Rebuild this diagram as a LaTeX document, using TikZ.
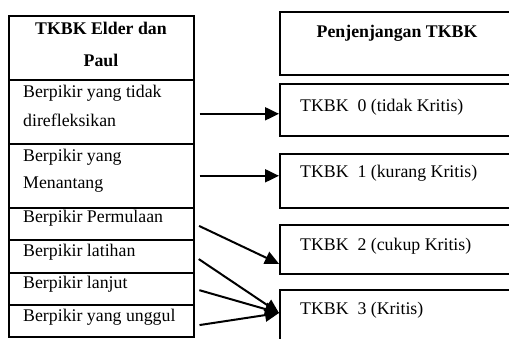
\documentclass[tikz,border=0pt]{standalone}
\usepackage{fontspec}
\setmainfont{Liberation Serif}
\usetikzlibrary{arrows.meta}
\begin{document}
\begin{tikzpicture}[x=1pt,y=-1pt,
  box/.style={draw,line width=1.6pt,rectangle,anchor=north west,inner sep=0pt},
  txt/.style={anchor=west,inner sep=0pt,font=\fontsize{17.8}{20}\selectfont},
  hdr/.style={inner sep=0pt,font=\fontsize{17.8}{20}\selectfont\bfseries},
  conn/.style={line width=2pt,-{Triangle[length=14pt,width=13pt]},shorten <=5pt}]
\useasboundingbox (0,0) rectangle (509,338);
\clip (0,0) rectangle (509,338);
% left column
\node[box,minimum width=185pt,minimum height=64pt] (h1) at (8,15) {};
\node[box,minimum width=185pt,minimum height=64pt] (r1) at (8,79) {};
\node[box,minimum width=185pt,minimum height=64pt] (r2) at (8,143) {};
\node[box,minimum width=185pt,minimum height=32pt] (r3) at (8,207) {};
\node[box,minimum width=185pt,minimum height=33pt] (r4) at (8,239) {};
\node[box,minimum width=185pt,minimum height=32pt] (r5) at (8,272) {};
\node[box,minimum width=185pt,minimum height=32pt] (r6) at (8,304) {};
\node[hdr] (h1a) at (101,28) {TKBK Elder dan};
\node[hdr] (h1b) at (101,60) {Paul};
\node[txt] (t1a) at (23,93) {Berpikir yang tidak};
\node[txt] (t1b) at (23,120) {direfleksikan};
\node[txt] (t2a) at (23,157) {Berpikir yang};
\node[txt] (t2b) at (23,185) {Menantang};
\node[txt] (t3) at (23,218) {Berpikir Permulaan};
\node[txt] (t4) at (23,252) {Berpikir latihan};
\node[txt] (t5) at (23,284) {Berpikir lanjut};
\node[txt] (t6) at (23,317) {Berpikir yang unggul};
% right column
\node[box,minimum width=240pt,minimum height=63pt] (h2) at (279,11) {};
\node[box,minimum width=240pt,minimum height=52pt] (b0) at (279,83) {};
\node[box,minimum width=240pt,minimum height=54pt] (b1) at (279,153) {};
\node[box,minimum width=240pt,minimum height=49pt] (b2) at (279,224) {};
\node[box,minimum width=240pt,minimum height=70pt] (b3) at (279,289) {};
\node[hdr] (h2a) at (397,33) {Penjenjangan TKBK};
\node[txt] (s0) at (300,107) {TKBK\ \ 0 (tidak Kritis)};
\node[txt] (s1) at (300,173) {TKBK\ \ 1 (kurang Kritis)};
\node[txt] (s2) at (300,246) {TKBK\ \ 2 (cukup Kritis)};
\node[txt] (s3) at (300,310) {TKBK\ \ 3 (Kritis)};
% connectors
\coordinate (p1) at ([yshift=-2pt]r1.east);
\coordinate (p6) at ([yshift=-5pt]r6.east);
\coordinate (q2) at ([yshift=-14.5pt]b2.west);
\coordinate (q3) at ([yshift=-24pt]b3.north west);
\draw[conn] (p1) -- (p1 -| b0.west);
\draw[conn] (r2.east) -- (r2.east -| b1.west);
\draw[conn] (r3.east) -- (q2);
\draw[conn] (r4.east) -- (q3);
\draw[conn] (r5.east) -- (q3);
\draw[conn] (p6) -- (q3);
\end{tikzpicture}
\end{document}
